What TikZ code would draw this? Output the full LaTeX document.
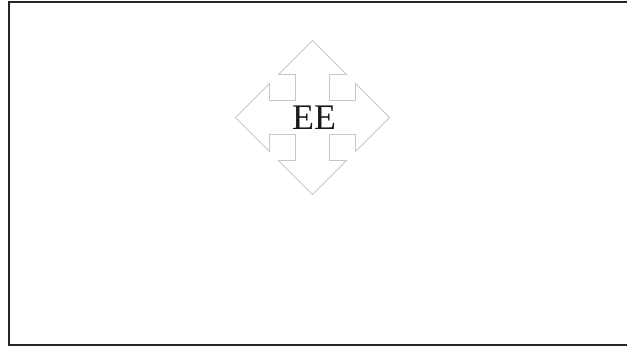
\documentclass[tikz,border=0pt]{standalone}
\usepackage{fontspec}
\setmainfont{Liberation Serif}
\begin{document}
\begin{tikzpicture}[x=1pt,y=-1pt,
  framestyle/.style={draw=black!85,line width=2pt},
  arrowshape/.style={draw=black!22,line width=0.8pt,line join=miter},
  labelstyle/.style={font=\fontsize{36}{40}\selectfont,inner sep=0pt,text=black!90}]
\useasboundingbox (0,0) rectangle (627,347);
\coordinate (c) at (312.5,117.5);
\draw[arrowshape] (c)
  ++(-17,-17) -- ++(0,-26) -- ++(-17,0) -- ++(34,-34) -- ++(34,34) -- ++(-17,0) -- ++(0,26)
  -- ++(26,0) -- ++(0,-17) -- ++(34,34) -- ++(-34,34) -- ++(0,-17) -- ++(-26,0)
  -- ++(0,26) -- ++(17,0) -- ++(-34,34) -- ++(-34,-34) -- ++(17,0) -- ++(0,-26)
  -- ++(-26,0) -- ++(0,17) -- ++(-34,-34) -- ++(34,-34) -- ++(0,17) -- cycle;
\node[labelstyle] (ee) at (314,118) {EE};
\coordinate (tl) at (9,2);
\coordinate (bl) at (9,345);
\coordinate (tr) at (640,2);
\coordinate (br) at (640,345);
\draw[framestyle] (tr) -- (tl) -- (bl) -- (br);
\end{tikzpicture}
\end{document}
